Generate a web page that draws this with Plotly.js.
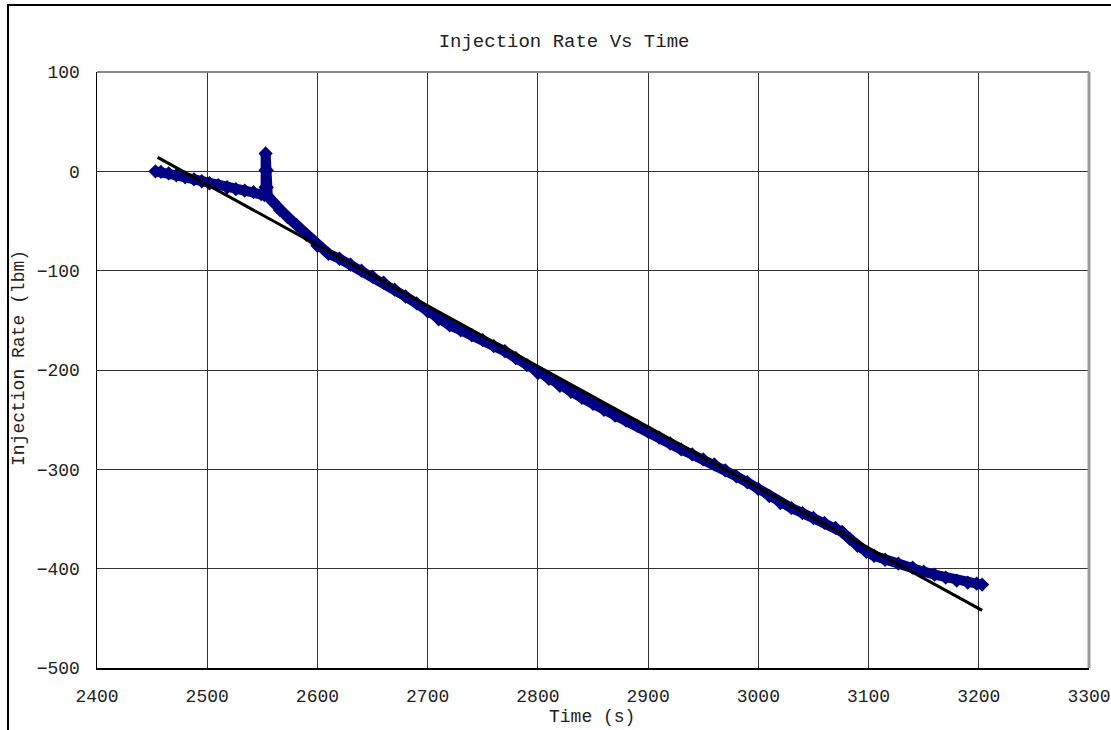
<!DOCTYPE html>
<html>
<head>
<meta charset="utf-8">
<script src="https://cdn.plot.ly/plotly-3.0.1.min.js"></script>
<style>
html,body{margin:0;padding:0;width:1111px;height:730px;overflow:hidden;background:#fff;}
#frame{position:absolute;left:7px;top:4px;width:1200px;height:800px;border-left:2px solid #000;border-top:2px solid #000;box-sizing:border-box;}
#chart{position:absolute;left:0;top:0;width:1111px;height:730px;}
</style>
</head>
<body>
<div id="frame"></div>
<div id="chart"></div>
<script>
// Measured injection rate (lbm) vs time (s)
const timeS = [2453,2458,2465,2472,2480,2488,2495,2502,2510,2518,2526,2534,2542,2549,2552,2553,2553,2553,2554,2554,2555,2560,2566,2573,2581,2590,2600,2610,2620,2630,2640,2650,2660,2670,2680,2690,2700,2710,2720,2730,2740,2750,2760,2770,2780,2790,2800,2810,2820,2830,2840,2850,2860,2870,2880,2890,2900,2910,2920,2930,2940,2950,2960,2970,2980,2990,3000,3010,3020,3030,3040,3050,3060,3070,3076,3083,3090,3098,3105,3115,3127,3140,3150,3160,3170,3180,3190,3198,3203];
const rateLbm = [0,-0.5,-2,-4,-6,-8,-10,-12,-14,-16,-18,-19.5,-21,-23,-24,-16,1,18,1,-16,-25,-31,-39,-46,-54,-64,-75,-83,-88,-94,-100,-106,-112,-119,-126,-133,-141,-149,-155,-160,-165,-170,-176,-181,-188,-195,-203,-209,-216,-222,-228,-234,-240,-246,-251,-256,-262,-268,-274,-280,-285,-290,-295,-301,-307,-313,-320,-327,-334,-339,-344,-349,-354,-359,-363,-370,-377,-383,-387,-391,-395,-399,-403,-406,-409,-412,-414,-415,-416];
// Linear trend line end points
const trendTime = [2455, 3203];
const trendRate = [14, -442];
// Axis ticks
const xTicks = [2400,2500,2600,2700,2800,2900,3000,3100,3200,3300];
const yTicks = [100,0,-100,-200,-300,-400,-500];

const fontFam = '"Liberation Mono", "DejaVu Sans Mono", monospace';

const traces = [
  {x: timeS, y: rateLbm, type: 'scatter', mode: 'lines+markers',
   line: {color: '#000080', width: 10},
   marker: {symbol: 'diamond', size: 11, color: '#000080'},
   hoverinfo: 'x+y', showlegend: false},
  {x: trendTime, y: trendRate, type: 'scatter', mode: 'lines',
   line: {color: '#000000', width: 3}, showlegend: false}
];

const layout = {
  width: 1111, height: 730,
  margin: {l: 97, r: 22, t: 72, b: 62, pad: 0},
  paper_bgcolor: 'rgba(0,0,0,0)', plot_bgcolor: '#ffffff',
  showlegend: false,
  font: {family: fontFam, size: 18, color: '#222'},
  title: {text: 'Injection Rate Vs Time', xref: 'container', yref: 'container',
          x: 0.5077, y: 1 - 40/730, xanchor: 'center', yanchor: 'middle',
          font: {family: fontFam, size: 19, color: '#222'}},
  xaxis: {range: [2400, 3300], tickvals: xTicks, ticktext: xTicks.map(String),
          showgrid: true, gridcolor: '#333', gridwidth: 1,
          showline: true, linecolor: '#000', linewidth: 1.5,
          zeroline: false, ticks: '', ticklabelstandoff: 11,
          tickfont: {family: fontFam, size: 18, color: '#222'}, fixedrange: true},
  yaxis: {range: [-500, 100], tickvals: yTicks,
          showgrid: true, gridcolor: '#333', gridwidth: 1,
          showline: true, linecolor: '#000', linewidth: 1.5,
          zeroline: false, ticks: '', ticklabelstandoff: 12,
          tickfont: {family: fontFam, size: 18, color: '#222'}, fixedrange: true},
  shapes: [
    {type: 'line', xref: 'paper', yref: 'paper', x0: 0, x1: 1, y0: 1, y1: 1,
     line: {color: '#888', width: 2}},
    {type: 'line', xref: 'paper', yref: 'paper', x0: 1, x1: 1, y0: 0, y1: 1,
     line: {color: '#999', width: 3}}
  ],
  annotations: [
    {text: 'Time (s)', xref: 'paper', yref: 'paper', x: (592-97)/992, y: (667.7-717)/596,
     xanchor: 'center', yanchor: 'middle', showarrow: false,
     font: {family: fontFam, size: 18, color: '#222'}},
    {text: 'Injection Rate (lbm)', xref: 'paper', yref: 'paper', x: (19-97)/992, y: (668-358)/596,
     xanchor: 'center', yanchor: 'middle', textangle: -90, showarrow: false,
     font: {family: fontFam, size: 18, color: '#222'}}
  ]
};

Plotly.newPlot('chart', traces, layout, {displayModeBar: false, staticPlot: true});
</script>
</body>
</html>
